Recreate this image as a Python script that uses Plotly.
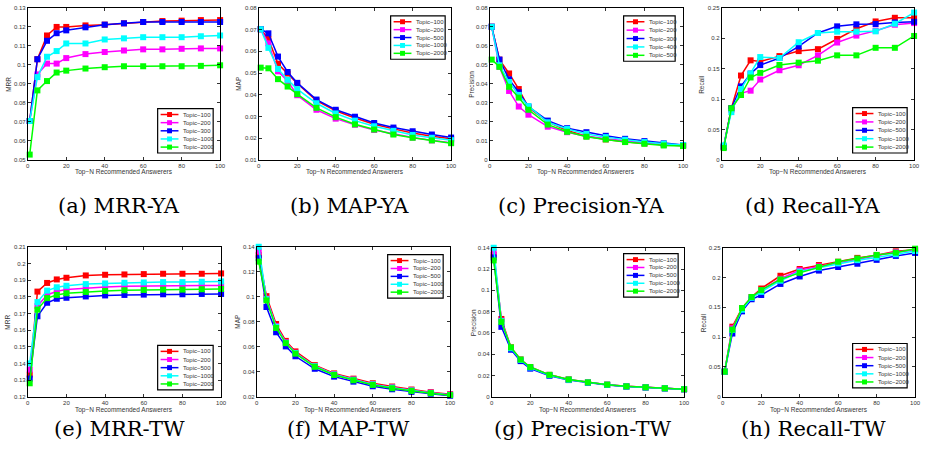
import plotly.graph_objects as go

# ---------------- data ----------------
top_n = [1, 5, 10, 15, 20, 30, 40, 50, 60, 70, 80, 90, 100]
x_ticks = [0, 20, 40, 60, 80, 100]

series_colors = ["#ff0000", "#ff00ff", "#0000ff", "#00ffff", "#00ff00"]

labels_a = ["Topic\u2212100", "Topic\u2212200", "Topic\u2212300", "Topic\u22121000", "Topic\u22122000"]
labels_b = ["Topic\u2212100", "Topic\u2212200", "Topic\u2212500", "Topic\u22121000", "Topic\u22122000"]
labels_c = ["Topic\u2212100", "Topic\u2212200", "Topic\u2212300", "Topic\u2212400", "Topic\u2212500"]
labels_std = labels_b

mrr_ya = [
    [0.0705, 0.1030, 0.1155, 0.1200, 0.1200, 0.1208, 0.1212, 0.1219, 0.1226, 0.1231, 0.1233, 0.1236, 0.1236],
    [0.0705, 0.0950, 0.1007, 0.1007, 0.1036, 0.1057, 0.1068, 0.1076, 0.1082, 0.1082, 0.1085, 0.1087, 0.1087],
    [0.0705, 0.1030, 0.1127, 0.1167, 0.1182, 0.1198, 0.1212, 0.1219, 0.1226, 0.1226, 0.1226, 0.1226, 0.1226],
    [0.0705, 0.0936, 0.1043, 0.1073, 0.1113, 0.1113, 0.1134, 0.1140, 0.1146, 0.1146, 0.1146, 0.1151, 0.1155],
    [0.0528, 0.0866, 0.0915, 0.0960, 0.0970, 0.0981, 0.0988, 0.0993, 0.0993, 0.0993, 0.0993, 0.0995, 0.0998],
]
map_ya = [
    [0.0702, 0.0657, 0.0543, 0.0498, 0.0452, 0.0373, 0.0326, 0.0293, 0.0264, 0.0243, 0.0224, 0.0209, 0.0197],
    [0.0702, 0.0637, 0.0508, 0.0464, 0.0398, 0.0331, 0.0290, 0.0262, 0.0238, 0.0220, 0.0203, 0.0190, 0.0179],
    [0.0702, 0.0683, 0.0576, 0.0505, 0.0455, 0.0378, 0.0331, 0.0299, 0.0270, 0.0249, 0.0232, 0.0217, 0.0203],
    [0.0702, 0.0616, 0.0519, 0.0469, 0.0426, 0.0361, 0.0314, 0.0281, 0.0255, 0.0234, 0.0215, 0.0202, 0.0191],
    [0.0525, 0.0522, 0.0472, 0.0438, 0.0403, 0.0340, 0.0297, 0.0264, 0.0240, 0.0217, 0.0202, 0.0190, 0.0177],
]
precision_ya = [
    [0.0701, 0.0528, 0.0455, 0.0373, 0.0276, 0.0201, 0.0155, 0.0125, 0.0108, 0.0095, 0.0087, 0.0080, 0.0075],
    [0.0701, 0.0490, 0.0363, 0.0281, 0.0238, 0.0175, 0.0146, 0.0125, 0.0111, 0.0099, 0.0090, 0.0082, 0.0076],
    [0.0701, 0.0528, 0.0424, 0.0356, 0.0281, 0.0207, 0.0167, 0.0146, 0.0127, 0.0111, 0.0099, 0.0087, 0.0078],
    [0.0701, 0.0498, 0.0410, 0.0342, 0.0283, 0.0198, 0.0163, 0.0137, 0.0120, 0.0106, 0.0094, 0.0085, 0.0078],
    [0.0528, 0.0490, 0.0385, 0.0328, 0.0264, 0.0186, 0.0148, 0.0122, 0.0108, 0.0094, 0.0085, 0.0076, 0.0073],
]
recall_ya = [
    [0.0222, 0.0850, 0.1388, 0.1638, 0.1620, 0.1708, 0.1790, 0.1822, 0.1990, 0.2158, 0.2278, 0.2338, 0.2338],
    [0.0210, 0.0824, 0.1095, 0.1139, 0.1323, 0.1475, 0.1557, 0.1720, 0.1931, 0.2045, 0.2126, 0.2224, 0.2251],
    [0.0217, 0.0850, 0.1210, 0.1420, 0.1560, 0.1676, 0.1866, 0.2088, 0.2197, 0.2230, 0.2235, 0.2260, 0.2272],
    [0.0239, 0.0786, 0.1166, 0.1420, 0.1692, 0.1676, 0.1936, 0.2088, 0.2110, 0.2110, 0.2115, 0.2240, 0.2424],
    [0.0195, 0.0850, 0.1068, 0.1356, 0.1432, 0.1562, 0.1600, 0.1632, 0.1720, 0.1720, 0.1844, 0.1844, 0.2039],
]
mrr_tw = [
    [0.1333, 0.1831, 0.1883, 0.1904, 0.1914, 0.1928, 0.1932, 0.1934, 0.1936, 0.1938, 0.1938, 0.1938, 0.1940],
    [0.1363, 0.1744, 0.1811, 0.1833, 0.1843, 0.1853, 0.1859, 0.1863, 0.1865, 0.1865, 0.1867, 0.1867, 0.1867],
    [0.1309, 0.1683, 0.1764, 0.1788, 0.1794, 0.1802, 0.1808, 0.1811, 0.1813, 0.1815, 0.1815, 0.1817, 0.1817],
    [0.1400, 0.1768, 0.1837, 0.1857, 0.1866, 0.1876, 0.1880, 0.1884, 0.1886, 0.1888, 0.1888, 0.1890, 0.1892],
    [0.1281, 0.1723, 0.1792, 0.1811, 0.1821, 0.1829, 0.1835, 0.1839, 0.1841, 0.1843, 0.1843, 0.1845, 0.1847],
]
map_tw = [
    [0.1333, 0.1005, 0.0782, 0.0647, 0.0563, 0.0453, 0.0387, 0.0345, 0.0308, 0.0282, 0.0258, 0.0237, 0.0221],
    [0.1363, 0.0985, 0.0765, 0.0635, 0.0552, 0.0446, 0.0380, 0.0338, 0.0301, 0.0275, 0.0252, 0.0233, 0.0217],
    [0.1309, 0.0918, 0.0716, 0.0603, 0.0524, 0.0424, 0.0361, 0.0321, 0.0284, 0.0260, 0.0239, 0.0224, 0.0208],
    [0.1400, 0.0980, 0.0760, 0.0632, 0.0550, 0.0444, 0.0378, 0.0336, 0.0299, 0.0273, 0.0250, 0.0231, 0.0215],
    [0.1281, 0.0971, 0.0750, 0.0629, 0.0545, 0.0440, 0.0374, 0.0332, 0.0295, 0.0268, 0.0247, 0.0229, 0.0213],
]
precision_tw = [
    [0.1333, 0.0731, 0.0464, 0.0350, 0.0280, 0.0206, 0.0163, 0.0135, 0.0114, 0.0098, 0.0089, 0.0080, 0.0071],
    [0.1363, 0.0715, 0.0458, 0.0347, 0.0276, 0.0204, 0.0161, 0.0134, 0.0113, 0.0098, 0.0088, 0.0080, 0.0071],
    [0.1309, 0.0657, 0.0442, 0.0335, 0.0264, 0.0197, 0.0157, 0.0131, 0.0111, 0.0096, 0.0087, 0.0078, 0.0070],
    [0.1400, 0.0710, 0.0456, 0.0346, 0.0275, 0.0203, 0.0160, 0.0134, 0.0113, 0.0097, 0.0088, 0.0079, 0.0071],
    [0.1281, 0.0703, 0.0464, 0.0350, 0.0280, 0.0206, 0.0163, 0.0135, 0.0114, 0.0098, 0.0089, 0.0080, 0.0071],
]
recall_tw = [
    [0.0421, 0.1176, 0.1488, 0.1674, 0.1816, 0.2030, 0.2144, 0.2210, 0.2265, 0.2330, 0.2374, 0.2440, 0.2467],
    [0.0421, 0.1150, 0.1460, 0.1665, 0.1790, 0.1980, 0.2122, 0.2188, 0.2248, 0.2303, 0.2363, 0.2429, 0.2456],
    [0.0421, 0.1061, 0.1433, 0.1636, 0.1707, 0.1893, 0.2018, 0.2117, 0.2177, 0.2232, 0.2297, 0.2363, 0.2413],
    [0.0421, 0.1120, 0.1460, 0.1660, 0.1760, 0.1947, 0.2100, 0.2166, 0.2237, 0.2292, 0.2336, 0.2391, 0.2445],
    [0.0421, 0.1127, 0.1488, 0.1674, 0.1789, 0.1969, 0.2079, 0.2177, 0.2265, 0.2320, 0.2380, 0.2418, 0.2484],
]

captions = ["(a) MRR-YA", "(b) MAP-YA", "(c) Precision-YA", "(d) Recall-YA",
            "(e) MRR-TW", "(f) MAP-TW", "(g) Precision-TW", "(h) Recall-TW"]
y_titles = ["MRR", "MAP", "Precision", "Recall", "MRR", "MAP", "Precision", "Recall"]
y_ranges = [[0.05, 0.13], [0.01, 0.08], [0, 0.08], [0, 0.25],
            [0.12, 0.21], [0.02, 0.14], [0, 0.14], [0, 0.25]]
y_dticks = [0.01, 0.01, 0.01, 0.05, 0.01, 0.02, 0.02, 0.05]
panel_data = [mrr_ya, map_ya, precision_ya, recall_ya, mrr_tw, map_tw, precision_tw, recall_tw]
panel_labels = [labels_a, labels_b, labels_c, labels_b, labels_std, labels_std, labels_std, labels_std]
x_title = "Top\u2212N Recommended Answerers"

# ---------------- layout geometry (pixels) ----------------
W, H = 930, 458
# plot area: left, right, top, bottom
areas = [
    (26, 220, 5, 159), (259, 453, 5, 159), (492, 687, 5, 159), (726, 920, 5, 159),
    (26, 221, 247, 399), (257, 452, 247, 399), (494, 688, 248, 399), (727, 921, 248, 399),
]
# legend boxes: left, right, top, bottom
legend_boxes = [
    (157, 213, 107, 152), (392, 447, 13, 57), (627, 679, 13, 59), (858, 913, 106, 152),
    (157, 213, 347, 392), (389, 445, 255, 299), (627, 682, 254, 298), (858, 913, 345, 390),
]
ytitle_x = [7, 239, 474, 706, 6, 238, 475, 707]


def px(x):
    return x / W


def py(y):
    return 1 - y / H


fig = go.Figure()
layout = dict(
    width=W, height=H, margin=dict(l=0, r=0, t=0, b=0),
    paper_bgcolor="white", plot_bgcolor="white", showlegend=False,
    font=dict(family="Liberation Sans, Arial, sans-serif", color="#222"),
)
shapes = []
annotations = []

for i in range(8):
    k = i + 1
    xa = "x" if k == 1 else f"x{k}"
    ya = "y" if k == 1 else f"y{k}"
    l, r, t, b = areas[i]
    for j, vals in enumerate(panel_data[i]):
        fig.add_trace(go.Scatter(
            x=top_n, y=vals, xaxis=xa, yaxis=ya, mode="lines+markers",
            name=panel_labels[i][j], cliponaxis=False,
            line=dict(color=series_colors[j], width=1.5),
            marker=dict(symbol="square", size=6, color=series_colors[j], line=dict(width=0)),
        ))
    axis_common = dict(
        showline=True, linecolor="black", linewidth=1, mirror="allticks",
        ticks="inside", ticklen=3, tickwidth=0.8, tickcolor="black",
        showgrid=False, zeroline=False,
        tickfont=dict(size=6, color="#333"),
    )
    layout["xaxis" if k == 1 else f"xaxis{k}"] = dict(
        domain=[px(l), px(r)], anchor=ya, range=[0, 100], tickvals=x_ticks, **axis_common)
    layout["yaxis" if k == 1 else f"yaxis{k}"] = dict(
        domain=[py(b), py(t)], anchor=xa, range=y_ranges[i], dtick=y_dticks[i],
        tick0=0, **axis_common)

    # axis titles
    row_title_y = 171.5 if i < 4 else 412.5
    annotations.append(dict(
        x=px((l + r) / 2), y=py(row_title_y), xref="paper", yref="paper",
        text=x_title, showarrow=False, font=dict(size=6.5, color="#333"),
        xanchor="center", yanchor="middle"))
    annotations.append(dict(
        x=px(ytitle_x[i]), y=py((t + b) / 2), xref="paper", yref="paper",
        text=y_titles[i], showarrow=False, textangle=-90, font=dict(size=6.5, color="#333"),
        xanchor="center", yanchor="middle"))
    # captions
    cap_y = 206 if i < 4 else 432
    annotations.append(dict(
        x=px((l + r) / 2 - 5), y=py(cap_y), xref="paper", yref="paper",
        text=captions[i], showarrow=False,
        font=dict(family="DejaVu Serif, serif", size=21, color="black"),
        xanchor="center", yanchor="middle"))

    # legend box
    bl, br, bt, bb = legend_boxes[i]
    shapes.append(dict(type="rect", xref="paper", yref="paper",
                       x0=px(bl), x1=px(br), y0=py(bb), y1=py(bt),
                       line=dict(color="black", width=1.2), fillcolor="white", layer="above"))
    step = (bb - bt - 12) / 4
    for j, lab in enumerate(panel_labels[i]):
        cy = bt + 6 + j * step
        shapes.append(dict(type="line", xref="paper", yref="paper",
                           x0=px(bl + 3), x1=px(bl + 21), y0=py(cy), y1=py(cy),
                           line=dict(color=series_colors[j], width=1.5), layer="above"))
        shapes.append(dict(type="rect", xref="paper", yref="paper",
                           x0=px(bl + 9.5), x1=px(bl + 14.5), y0=py(cy + 2.5), y1=py(cy - 2.5),
                           line=dict(width=0), fillcolor=series_colors[j], layer="above"))
        annotations.append(dict(
            x=px(bl + 24), y=py(cy), xref="paper", yref="paper", text=lab,
            showarrow=False, xanchor="left", yanchor="middle",
            font=dict(size=6, color="#333")))

layout["shapes"] = shapes
layout["annotations"] = annotations
fig.update_layout(**layout)
fig.write_html(
    "out.html",
    config={"displayModeBar": False, "staticPlot": True},
    post_script="document.body.style.margin='0px';document.body.style.padding='0px';"
                "document.body.style.overflow='hidden';",
)
